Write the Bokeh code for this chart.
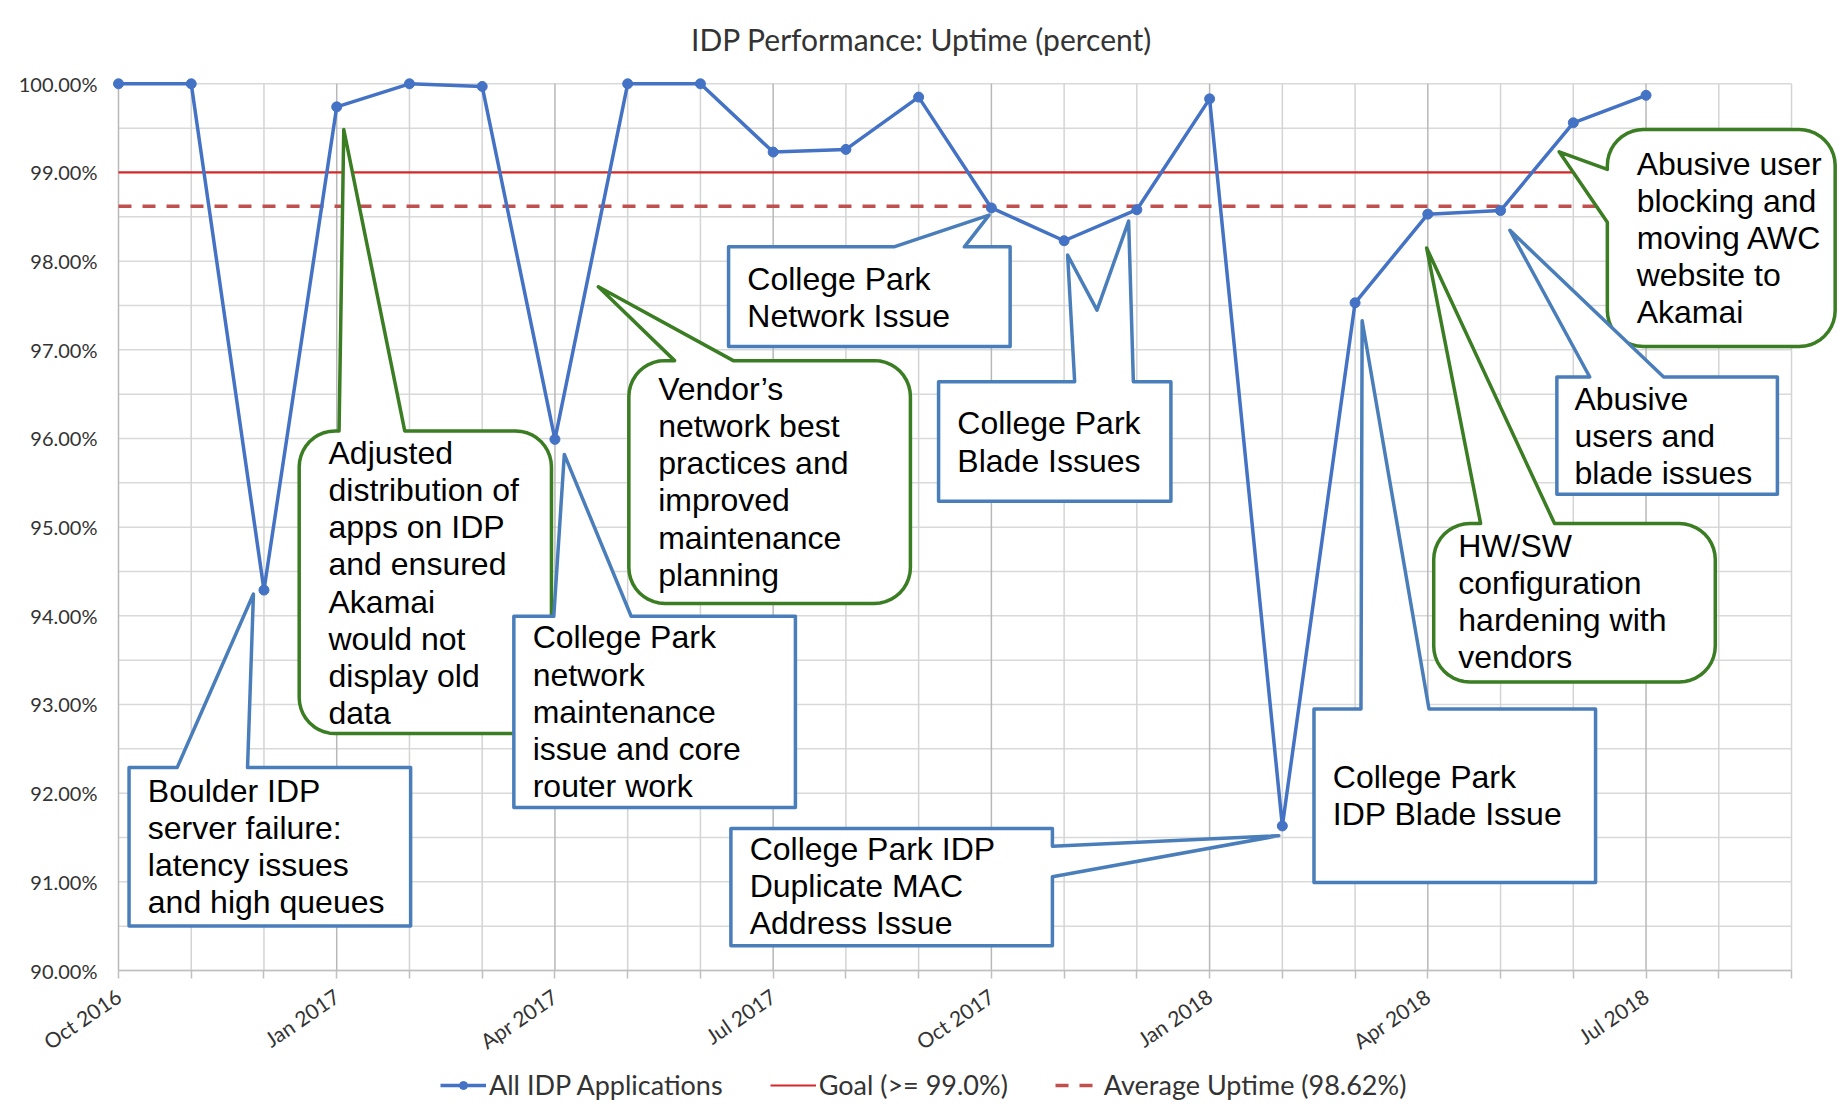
import math
from bokeh.plotting import figure
from bokeh.models import (FixedTicker, Legend, LegendItem, PolyAnnotation, Label, Range1d)
from bokeh.embed import file_html
from bokeh.resources import INLINE

# ---------------- data ----------------
months = ["Oct 2016", "Nov 2016", "Dec 2016", "Jan 2017", "Feb 2017", "Mar 2017",
          "Apr 2017", "May 2017", "Jun 2017", "Jul 2017", "Aug 2017", "Sep 2017",
          "Oct 2017", "Nov 2017", "Dec 2017", "Jan 2018", "Feb 2018", "Mar 2018",
          "Apr 2018", "May 2018", "Jun 2018", "Jul 2018"]
axis_months = months + ["Aug 2018", "Sep 2018"]
uptime = [100.00, 100.00, 94.29, 99.74, 100.00, 99.97, 95.99, 100.00, 100.00, 99.23,
          99.26, 99.85, 98.60, 98.23, 98.58, 99.83, 91.63, 97.53, 98.53, 98.57,
          99.56, 99.87]
goal = 99.0
average_uptime = 98.62
labelled_months = ["Oct 2016", "Jan 2017", "Apr 2017", "Jul 2017", "Oct 2017",
                   "Jan 2018", "Apr 2018", "Jul 2018"]
y_ticks = [90, 91, 92, 93, 94, 95, 96, 97, 98, 99, 100]
y_tick_labels = ["90.00%", "91.00%", "92.00%", "93.00%", "94.00%", "95.00%",
                 "96.00%", "97.00%", "98.00%", "99.00%", "100.00%"]
series_names = ["All IDP Applications", "Goal (>= 99.0%)", "Average Uptime (98.62%)"]
title_text = "IDP Performance: Uptime (percent)"

# ---------------- layout ----------------
W, H = 1838, 1112
AXIS_X_PX = 118                            # screen column of the first month
AXIS_Y_PX = 970                            # screen row of the 90 % line
x_last = len(axis_months) - 1            # last month on the axis
y_min, y_max = y_ticks[0], y_ticks[-1]
KX = 72.74                                 # px per month
KY = 88.67                                 # px per percent
x_range = Range1d(-AXIS_X_PX / KX, (W - AXIS_X_PX) / KX)
y_range = Range1d(y_min - (H - AXIS_Y_PX) / KY, y_min + AXIS_Y_PX / KY)

p = figure(width=W, height=H, output_backend="svg", toolbar_location=None,
           x_range=x_range, y_range=y_range,
           min_border_left=0, min_border_right=0, min_border_top=0,
           min_border_bottom=0, title=None)
p.background_fill_color = "white"
p.border_fill_color = "white"
p.outline_line_color = None
p.xgrid.visible = False
p.ygrid.visible = False

TICK_COLOR = "#333333"
# axes
p.xaxis.fixed_location = y_min
p.xaxis.ticker = FixedTicker(ticks=list(range(len(axis_months))))
p.xaxis.bounds = (0, x_last)
p.xaxis.major_label_overrides = {i: (m if m in labelled_months else "")
                                 for i, m in enumerate(axis_months)}
p.xaxis.major_label_orientation = 0.6
p.xaxis.axis_line_color = "#BFBFBF"
p.xaxis.axis_line_width = 1.5
p.xaxis.major_tick_line_color = "#BFBFBF"
p.xaxis.major_tick_line_width = 1.5
p.xaxis.major_tick_out = 8
p.xaxis.major_tick_in = 0
p.xaxis.minor_tick_line_color = None
p.xaxis.major_label_text_font = "Lato"
p.xaxis.major_label_text_font_size = "21px"
p.xaxis.major_label_text_color = TICK_COLOR
p.xaxis.major_label_standoff = 15

p.yaxis.fixed_location = 0
p.yaxis.ticker = FixedTicker(ticks=y_ticks)
p.yaxis.bounds = (y_min, y_max)
p.yaxis.major_label_overrides = dict(zip(y_ticks, y_tick_labels))
p.yaxis.axis_line_color = None
p.yaxis.major_tick_line_color = None
p.yaxis.minor_tick_line_color = None
p.yaxis.major_label_text_font = "Lato"
p.yaxis.major_label_text_font_size = "20px"
p.yaxis.major_label_text_color = TICK_COLOR
p.yaxis.major_label_standoff = 15

# grid lines (limited to the plotting area 0..last month, 90..100 %)
half_steps = [y_min + 0.5 * i for i in range(int((y_max - y_min) * 2) + 1)]
p.segment(x0=[0] * len(half_steps), y0=half_steps, x1=[x_last] * len(half_steps),
          y1=half_steps, line_color="#D9D9D9", line_width=1.5)
minor_pos = [i for i, m in enumerate(axis_months) if m not in labelled_months]
major_pos = [i for i, m in enumerate(axis_months) if m in labelled_months]
p.segment(x0=minor_pos, y0=[y_min] * len(minor_pos), x1=minor_pos,
          y1=[y_max] * len(minor_pos), line_color="#D4D4D4", line_width=1.5)
p.segment(x0=major_pos, y0=[y_min] * len(major_pos), x1=major_pos,
          y1=[y_max] * len(major_pos), line_color="#B8B8B8", line_width=1.5)

# series
goal_r = p.line([0, x_last], [goal, goal], line_color="#D42A2A", line_width=2.2)
avg_r = p.line([0, x_last], [average_uptime, average_uptime], line_color="#C0504D",
               line_width=3.5, line_dash="13 11")
x_idx = list(range(len(months)))
ser_l = p.line(x_idx, uptime, line_color="#4472C4", line_width=3.5)
ser_m = p.scatter(x_idx, uptime, size=10, marker="circle", fill_color="#4472C4",
                  line_color="#4472C4")

legend = Legend(items=[LegendItem(label=series_names[0], renderers=[ser_l, ser_m]),
                       LegendItem(label=series_names[1], renderers=[goal_r]),
                       LegendItem(label=series_names[2], renderers=[avg_r])],
                orientation="horizontal", location=(440, 11),
                border_line_color=None, background_fill_alpha=0,
                label_text_font="Lato", label_text_font_size="27px",
                label_text_color=TICK_COLOR, glyph_width=46, glyph_height=20,
                spacing=47, label_standoff=3, padding=0, margin=0)
p.add_layout(legend)

# title
p.add_layout(Label(x=11.04, y=100.50, text=title_text, text_align="center",
                   text_baseline="middle", text_font="Lato", text_font_size="30px",
                   text_color="#333333"))

# ---------------- callouts ----------------
BLUE = "#4A7EBB"
GREEN = "#3A7D22"


def callout_path(left, right, bottom, top, radius_px=0, top_pts=(), right_pts=(),
                 left_pts=()):
    rx, ry = radius_px / KX, radius_px / KY
    xs, ys = [], []

    def corner(cx, cy, a0, a1):
        if radius_px <= 0:
            xs.append(cx); ys.append(cy)
            return
        n = 10
        for i in range(n + 1):
            a = a0 + (a1 - a0) * i / n
            xs.append(cx + rx * math.cos(a)); ys.append(cy + ry * math.sin(a))

    corner(left + rx, top - ry, math.pi, math.pi / 2)
    for x, y in top_pts:
        xs.append(x); ys.append(y)
    corner(right - rx, top - ry, math.pi / 2, 0)
    for x, y in right_pts:
        xs.append(x); ys.append(y)
    corner(right - rx, bottom + ry, 0, -math.pi / 2)
    corner(left + rx, bottom + ry, -math.pi / 2, -math.pi)
    for x, y in left_pts:
        xs.append(x); ys.append(y)
    return xs, ys


def add_callout(box, color, text, text_x, text_y, radius_px=0, **pts):
    xs, ys = callout_path(*box, radius_px=radius_px, **pts)
    p.add_layout(PolyAnnotation(xs=xs, ys=ys, fill_color="white", fill_alpha=1,
                                line_color=color, line_alpha=1, line_width=3.5,
                                line_join="round"))
    p.add_layout(Label(x=text_x, y=text_y, text=text, text_align="left",
                       text_baseline="middle", text_font="Liberation Sans",
                       text_font_size="32px", text_line_height=1.03,
                       text_color="black"))


R = 36
# Boulder
add_callout((0.145, 4.016, 90.503, 92.288), BLUE,
            "Boulder IDP\nserver failure:\nlatency issues\nand high queues", 0.403, 91.40,
            top_pts=[(0.806, 92.288), (1.855, 94.246), (1.774, 92.288)])
# Adjusted distribution
add_callout((2.484, 5.952, 92.672, 96.085), GREEN,
            "Adjusted\ndistribution of\napps on IDP\nand ensured\nAkamai\nwould not\ndisplay old\ndata",
            2.887, 94.37, radius_px=R,
            top_pts=[(3.032, 96.085), (3.097, 99.484), (3.935, 96.085)])
# College Park network maintenance
add_callout((5.435, 9.306, 91.839, 93.995), BLUE,
            "College Park\nnetwork\nmaintenance\nissue and core\nrouter work", 5.694, 92.92,
            top_pts=[(5.984, 93.995), (6.129, 95.820), (7.048, 93.995)])
# Vendor's
add_callout((7.016, 10.887, 94.140, 96.878), GREEN,
            "Vendor\u2019s\nnetwork best\npractices and\nimproved\nmaintenance\nplanning",
            7.419, 95.51, radius_px=R,
            top_pts=[(7.645, 96.878), (6.597, 97.712), (8.452, 96.878)])
# College Park Network Issue
add_callout((8.387, 12.258, 97.037, 98.161), BLUE,
            "College Park\nNetwork Issue", 8.645, 97.59,
            top_pts=[(10.661, 98.161), (11.968, 98.519), (11.629, 98.161)])
# College Park Blade Issues
add_callout((11.274, 14.468, 95.291, 96.640), BLUE,
            "College Park\nBlade Issues", 11.532, 95.96,
            top_pts=[(13.145, 96.640), (13.048, 98.069), (13.452, 97.447),
                     (13.887, 98.452), (13.952, 96.640)])
# College Park IDP Duplicate MAC
add_callout((8.419, 12.839, 90.278, 91.601), BLUE,
            "College Park IDP\nDuplicate MAC\nAddress Issue", 8.677, 90.95,
            right_pts=[(12.839, 91.402), (15.952, 91.521), (12.839, 91.058)])
# College Park IDP Blade Issue
add_callout((16.435, 20.306, 90.992, 92.950), BLUE,
            "College Park\nIDP Blade Issue", 16.694, 91.97,
            top_pts=[(17.081, 92.950), (17.097, 97.328), (18.016, 92.950)])
# HW/SW
add_callout((18.081, 21.952, 93.254, 95.040), GREEN,
            "HW/SW\nconfiguration\nhardening with\nvendors", 18.419, 94.16, radius_px=R,
            top_pts=[(18.726, 95.040), (17.984, 98.148), (19.742, 95.040)])
# Abusive user blocking
add_callout((20.468, 23.60, 97.037, 99.484), GREEN,
            "Abusive user\nblocking and\nmoving AWC\nwebsite to\nAkamai", 20.871, 98.26,
            radius_px=R,
            left_pts=[(20.468, 98.439), (19.806, 99.233), (20.468, 99.034)])
# Abusive users and blade issues
add_callout((19.774, 22.806, 95.370, 96.693), BLUE,
            "Abusive\nusers and\nblade issues", 20.016, 96.03,
            top_pts=[(20.226, 96.693), (19.129, 98.347), (21.242, 96.693)])

open("out.html", "w").write(file_html(p, INLINE))
